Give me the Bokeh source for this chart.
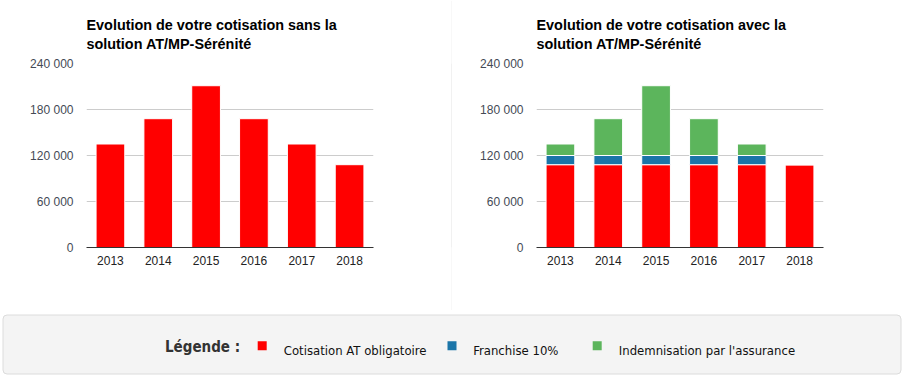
from bokeh.plotting import figure
from bokeh.layouts import column, row
from bokeh.models import Range1d, FactorRange, FixedTicker, ColumnDataSource
from bokeh.core.properties import value
from bokeh.embed import file_html
from bokeh.resources import INLINE

# ---------------- data ----------------
years = ["2013", "2014", "2015", "2016", "2017", "2018"]
sans_total = [135000, 168000, 211000, 168000, 135000, 108000]
cotisation = [108000, 108000, 108000, 108000, 108000, 108000]
franchise = [12000, 12000, 12000, 12000, 12000, 0]
indemnisation = [15000, 48000, 91000, 48000, 15000, 0]
y_ticks = [0, 60000, 120000, 180000, 240000]
y_tick_labels = ["0", "60 000", "120 000", "180 000", "240 000"]
series_names = ["Cotisation AT obligatoire", "Franchise 10%", "Indemnisation par l'assurance"]
series_colors = ["#ff0000", "#1b75a8", "#5cb55c"]
chart_titles = [
    "Evolution de votre cotisation sans la\nsolution AT/MP-Sérénité",
    "Evolution de votre cotisation avec la\nsolution AT/MP-Sérénité",
]
legend_title = "Légende :"

FONT = "Liberation Sans"


def make_chart(title, width, left):
    frame_w = 287
    p = figure(
        x_range=FactorRange(*years, range_padding=0),
        y_range=Range1d(0, 240000),
        width=width, height=310,
        toolbar_location=None, output_backend="svg",
        min_border_left=left, min_border_right=width - left - frame_w,
        min_border_top=63, min_border_bottom=63,
        outline_line_color=None,
    )
    p.title.text = title
    p.title.text_font = FONT
    p.title.text_font_size = "14.4px"
    p.title.text_font_style = "bold"
    p.title.text_color = "#000000"
    p.title.align = "left"
    p.title.text_line_height = 1.2
    p.title.standoff = 23

    p.yaxis.ticker = FixedTicker(ticks=y_ticks)
    p.yaxis.major_label_overrides = {t: l for t, l in zip(y_ticks, y_tick_labels)}
    p.yaxis.axis_line_color = None
    p.yaxis.major_tick_line_color = None
    p.yaxis.minor_tick_line_color = None
    p.yaxis.major_tick_out = 0
    p.yaxis.major_label_standoff = 13
    p.yaxis.major_label_text_font = FONT
    p.yaxis.major_label_text_font_size = "12px"
    p.yaxis.major_label_text_color = "#444a55"

    p.xaxis.axis_line_color = "#333333"
    p.xaxis.major_tick_line_color = None
    p.xaxis.minor_tick_line_color = None
    p.xaxis.major_tick_out = 0
    p.xaxis.major_label_standoff = 8
    p.xaxis.major_label_text_font = FONT
    p.xaxis.major_label_text_font_size = "12px"
    p.xaxis.major_label_text_color = "#222222"

    p.xgrid.grid_line_color = None
    p.ygrid.ticker = FixedTicker(ticks=y_ticks)
    p.ygrid.grid_line_color = "#cccccc"
    return p


p1 = make_chart(chart_titles[0], 451, 86)
p1.vbar(x=years, top=sans_total, width=0.6, fill_color=series_colors[0],
        line_color="white", line_width=1)

p2 = make_chart(chart_titles[1], 453, 84)
src = ColumnDataSource(dict(years=years, cotisation=cotisation,
                            franchise=franchise, indemnisation=indemnisation))
p2.vbar_stack(["cotisation", "franchise", "indemnisation"], x="years", width=0.6,
              fill_color=series_colors, line_color="white", line_width=1, source=src)

# divider
dv = figure(width=1, height=310, toolbar_location=None, output_backend="svg",
            min_border=0, background_fill_color="#e3e3e3", border_fill_color="#e3e3e3",
            outline_line_color=None)
dv.axis.visible = False
dv.grid.grid_line_color = None

# legend panel
lg = figure(width=905, height=66, x_range=Range1d(0, 905), y_range=Range1d(66, 0),
            toolbar_location=None, output_backend="svg", min_border=0,
            outline_line_color=None)
lg.axis.visible = False
lg.grid.grid_line_color = None
lg.quad(left=[2.5], right=[900.5], top=[4.5], bottom=[63.5],
        fill_color="#f4f4f4", line_color="#dcdcdc", line_width=1, border_radius=4)
lg.text(x=[164.5], y=[36.5], text=[legend_title],
        text_font=value("DejaVu Sans Condensed"), text_font_style="bold",
        text_font_size="15px", text_color="#333333", text_baseline="alphabetic")
sq_x = [261.7, 451.5, 596.7]
tx_x = [283.3, 472.7, 618.3]
lg.rect(x=sq_x, y=[35.3] * 3, width=9, height=9, fill_color=series_colors, line_color=None)
lg.text(x=tx_x, y=[39.5] * 3, text=series_names,
        text_font=value("DejaVu Sans Condensed"), text_font_size="13px",
        text_color="#111111", text_baseline="alphabetic")

layout = column(row(p1, dv, p2), lg)
open("out.html", "w").write(file_html(layout, INLINE))
